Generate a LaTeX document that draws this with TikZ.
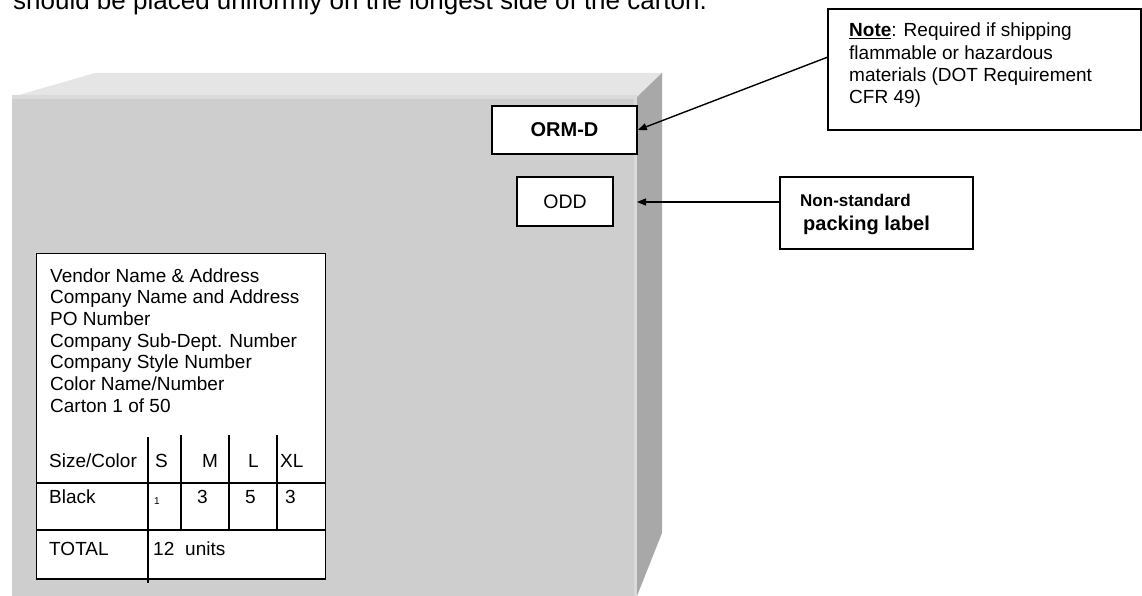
\documentclass[tikz,border=0pt]{standalone}
\usepackage{fontspec}
\setmainfont{Liberation Sans}
\usetikzlibrary{arrows.meta,calc}

\definecolor{frontgrau}{RGB}{206,206,206}
\definecolor{deckelgrau}{RGB}{229,229,229}
\definecolor{seitengrau}{RGB}{168,168,168}
\definecolor{kantegrau}{RGB}{218,218,218}

\tikzset{
    schild/.style={draw, fill=white, inner sep=0pt},
    pfeil/.style={line width=1.4pt, -{Triangle[length=9pt,width=7pt]}},
    zeile/.style={anchor=base west, inner sep=0pt, font=\fontsize{19}{22}\selectfont},
}

\begin{document}
\begin{tikzpicture}[x=1pt, y=-1pt]
    \useasboundingbox (0,0) rectangle (1142,596);

    % Text oben (abgeschnitten)
    \node[anchor=base west, inner sep=0pt, font=\fontsize{26}{30}\selectfont] (kopf) at (13,10)
        {should be placed uniformly on the longest side of the carton.};

    % Karton
    \fill[frontgrau] (12,97) rectangle (637,596);
    \fill[deckelgrau] (12,97) -- (95,73) -- (662,73) -- (637,97) -- cycle;
    \fill[kantegrau] (12,95) rectangle (637,99);
    \fill[kantegrau] (634,97) rectangle (637,596);
    \fill[seitengrau] (637,97) -- (662,73) -- (662,533) -- (637,596) -- cycle;

    % Aufkleber auf dem Karton
    \node[schild, line width=1.6pt, minimum width=145pt, minimum height=48pt,
          font=\bfseries\fontsize{20}{24}\selectfont] (ormd) at (564.5,130) {ORM-D};
    \node[schild, line width=1.2pt, minimum width=96pt, minimum height=49pt,
          font=\fontsize{19.5}{24}\selectfont] (odd) at (565,201.5) {ODD};

    % Hinweiskasten
    \node[schild, line width=1.4pt, minimum width=313pt, minimum height=121pt] (note) at (984.5,69.5) {};
    \foreach \text [count=\i from 0] in {{\underline{\textbf{Note}}:  Required if shipping},
            flammable or hazardous, materials (DOT Requirement, CFR 49)} {
        \node[zeile] (n\i) at (849, 37+22.3*\i) {\text};
    }

    \node[schild, line width=1.6pt, minimum width=193pt, minimum height=72pt] (nonstd) at (876.5,213) {};
    \node[anchor=base west, inner sep=0pt, font=\bfseries\fontsize{17}{20}\selectfont] (ns1) at (800,207) {Non-standard};
    \node[anchor=base west, inner sep=0pt, font=\bfseries\fontsize{20}{24}\selectfont] (ns2) at (803,230) {packing label};

    % Pfeile
    \coordinate (note-an) at ($(note.north west)!0.4!(note.south west)$);
    \draw[pfeil] (note-an) -- (ormd.east);
    \coordinate (odd-spitze) at (637,202);
    \draw[pfeil] (nonstd.west |- odd-spitze) -- (odd-spitze);

    % Etikett
    \node[schild, line width=0.8pt, minimum width=289pt, minimum height=326pt] (etikett) at (180.5,416) {};
    \foreach \text [count=\i from 0] in {Vendor Name \& Address, Company Name and Address, PO Number,
            Company Sub-Dept. Number, Company Style Number, Color Name/Number, Carton 1 of 50} {
        \node[zeile] (e\i) at (50, 282+21.7*\i) {\text};
    }

    % Tabelle
    \foreach \y in {483,530,579} {
        \draw[line width=1.6pt] (36,\y) -- (325,\y);
    }
    \draw[line width=1.6pt] (148,437) -- (148,583);
    \foreach \x in {181,229,277} {
        \draw[line width=1.6pt] (\x,435) -- (\x,530);
    }
    \foreach \x/\y/\t [count=\i] in {49/467/{Size/Color}, 155/467/S, 202/467/M, 248/467/L, 280/467/XL,
            49/503/Black, 197/503/3, 245/503/5, 285/503/3, 49/555/TOTAL, 153/555/12, 185/555/units} {
        \node[zeile] (t\i) at (\x,\y) {\t};
    }
    \node[anchor=base west, inner sep=0pt, font=\fontsize{10}{12}\selectfont] (eins) at (154,504) {1};
\end{tikzpicture}
\end{document}
